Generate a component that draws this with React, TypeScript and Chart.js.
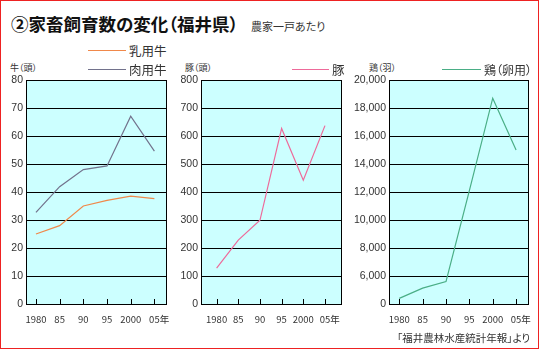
import React, { useEffect, useRef } from 'react';
import { Chart, registerables } from 'chart.js';

Chart.register(...registerables);

// ---- data ----
const years = ['1980', '85', '90', '95', '2000', '\u200305年'];
const dairyCattle = [25, 28, 35, 37, 38.5, 37.6];
const beefCattle = [32.7, 41.9, 48, 49.3, 67.1, 54.6];
const pigs = [128, 228, 299, 627, 442, 637];
const layerHens = [1200, 3400, 4800, 12100, 18700, 15000];
const cattleTicks = [0, 10, 20, 30, 40, 50, 60, 70, 80];
const pigTicks = [0, 100, 200, 300, 400, 500, 600, 700, 800];
const henTicks = [0, 6000, 8000, 10000, 12000, 14000, 16000, 18000, 20000];

const JP = '"Noto Sans CJK JP", "Noto Sans", sans-serif';

// broken axis for hens: 0..6000 occupies one interval (same as 2000)
const henAxis = (v: number) => (v <= 6000 ? 4000 + v / 3 : v);
const ident = (v: number) => v;

const framePlugin = {
  id: 'frame',
  beforeDraw(chart: any) {
    const { ctx, chartArea } = chart;
    const { left, top, right, bottom } = chartArea;
    ctx.save();
    ctx.fillStyle = '#ccffff';
    ctx.fillRect(left, top, right - left, bottom - top);
    ctx.restore();
  },
  afterDraw(chart: any) {
    const { ctx, chartArea } = chart;
    const { left, top, right, bottom } = chartArea;
    ctx.save();
    ctx.strokeStyle = '#000';
    ctx.lineWidth = 1;
    ctx.strokeRect(Math.round(left) + 0.5, Math.round(top) + 0.5, Math.round(right - left), Math.round(bottom - top));
    const xs = chart.scales.x;
    ctx.beginPath();
    xs.ticks.forEach((t: any) => {
      const x = Math.round(xs.getPixelForValue(t.value)) + 0.5;
      ctx.moveTo(x, Math.round(bottom) + 0.5);
      ctx.lineTo(x, Math.round(bottom) - 5);
    });
    ctx.stroke();
    ctx.restore();
  },
};

type Spec = {
  series: { data: number[]; color: string }[];
  ticks: number[];
  toAxis: (v: number) => number;
  label: (v: number) => string;
  xMin: number;
  xMax: number;
  yWidth: number;
  padRight: number;
};

function makeChart(canvas: HTMLCanvasElement, s: Spec) {
  const yMin = s.toAxis(s.ticks[0]);
  const yMax = s.toAxis(s.ticks[s.ticks.length - 1]);
  return new Chart(canvas, {
    type: 'line',
    data: {
      datasets: s.series.map((se) => ({
        data: se.data.map((v, i) => ({ x: i, y: s.toAxis(v) })),
        borderColor: se.color,
        borderWidth: 1.2,
        pointRadius: 0,
        tension: 0,
        fill: false,
      })),
    },
    options: {
      animation: false,
      responsive: false,
      maintainAspectRatio: false,
      devicePixelRatio: 1,
      layout: { padding: { top: 6, right: s.padRight, left: 0, bottom: 0 } },
      plugins: { legend: { display: false }, tooltip: { enabled: false }, title: { display: false } },
      scales: {
        x: {
          type: 'linear',
          min: s.xMin,
          max: s.xMax,
          grid: { display: false, drawTicks: false },
          border: { display: false },
          afterBuildTicks: (sc: any) => {
            sc.ticks = years.map((_, i) => ({ value: i }));
          },
          afterFit: (sc: any) => {
            sc.height = 36;
            sc.paddingLeft = 0;
            sc.paddingRight = 0;
          },
          ticks: {
            autoSkip: false,
            maxRotation: 0,
            padding: 10,
            color: '#333',
            font: { family: JP, size: 9.5 },
            callback: (v: any) => years[v as number] ?? '',
          },
        },
        y: {
          type: 'linear',
          min: yMin,
          max: yMax,
          grid: { color: '#000', lineWidth: 1, drawTicks: false },
          border: { display: false },
          afterBuildTicks: (sc: any) => {
            sc.ticks = s.ticks.map((v) => ({ value: s.toAxis(v) }));
          },
          afterFit: (sc: any) => {
            sc.width = s.yWidth;
            sc.paddingTop = 0;
            sc.paddingBottom = 0;
          },
          ticks: {
            padding: 3,
            color: '#333',
            font: { family: '"Liberation Sans", Arial, sans-serif', size: 10.5 },
            callback: (v: any) => {
              const i = s.ticks.findIndex((t) => s.toAxis(t) === v);
              return i >= 0 ? s.label(s.ticks[i]) : '';
            },
          },
        },
      },
    },
    plugins: [framePlugin],
  } as any);
}

const abs = (style: React.CSSProperties): React.CSSProperties => ({
  position: 'absolute',
  whiteSpace: 'nowrap',
  lineHeight: 1,
  fontFamily: JP,
  fontFeatureSettings: '"palt"',
  transform: 'translateY(-50%)',
  ...style,
});

function LegendLine({ x1, x2, y, color }: { x1: number; x2: number; y: number; color: string }) {
  return <div style={{ position: 'absolute', left: x1, top: y, width: x2 - x1, height: 0, borderTop: `1px solid ${color}` }} />;
}

export default function App() {
  const c1 = useRef<HTMLCanvasElement>(null);
  const c2 = useRef<HTMLCanvasElement>(null);
  const c3 = useRef<HTMLCanvasElement>(null);

  useEffect(() => {
    document.body.style.margin = '0';
    const charts = [
      makeChart(c1.current!, {
        series: [
          { data: dairyCattle, color: '#f0884a' },
          { data: beefCattle, color: '#72728c' },
        ],
        ticks: cattleTicks,
        toAxis: ident,
        label: (v) => String(v),
        xMin: -0.42,
        xMax: 5.49,
        yWidth: 26,
        padRight: 6,
      }),
      makeChart(c2.current!, {
        series: [{ data: pigs, color: '#ee6a9a' }],
        ticks: pigTicks,
        toAxis: ident,
        label: (v) => String(v),
        xMin: -0.72,
        xMax: 5.74,
        yWidth: 29,
        padRight: 3,
      }),
      makeChart(c3.current!, {
        series: [{ data: layerHens, color: '#4aae86' }],
        ticks: henTicks,
        toAxis: henAxis,
        label: (v) => v.toLocaleString('en-US'),
        xMin: -0.44,
        xMax: 5.51,
        yWidth: 45,
        padRight: 10,
      }),
    ];
    return () => charts.forEach((c) => c.destroy());
  }, []);

  return (
    <div style={{ position: 'relative', width: 540, height: 350, background: '#fff', overflow: 'hidden' }}>
      <div style={{ position: 'absolute', left: 0, top: 0, width: 537, height: 347, border: '1px solid #ee2222' }} />
      <div style={abs({ left: 11, top: 24, fontSize: 17.5, fontWeight: 'bold', color: '#111' })}>②家畜飼育数の変化（福井県）</div>
      <div style={abs({ left: 251, top: 26, fontSize: 11, color: '#333' })}>農家一戸あたり</div>

      <canvas ref={c1} width={172} height={266} style={{ position: 'absolute', left: 0, top: 74, width: 172, height: 266 }} />
      <canvas ref={c2} width={172} height={266} style={{ position: 'absolute', left: 172, top: 74, width: 172, height: 266 }} />
      <canvas ref={c3} width={194} height={266} style={{ position: 'absolute', left: 344, top: 74, width: 194, height: 266 }} />

      <div style={abs({ left: 10, top: 67, fontSize: 9, color: '#333' })}>牛（頭）</div>
      <div style={abs({ left: 185, top: 67, fontSize: 9, color: '#333' })}>豚（頭）</div>
      <div style={abs({ left: 369, top: 67, fontSize: 9, color: '#333' })}>鶏（羽）</div>

      <LegendLine x1={88} x2={126} y={50} color="#f0884a" />
      <div style={abs({ left: 129, top: 51, fontSize: 12.5, color: '#333' })}>乳用牛</div>
      <LegendLine x1={88} x2={126} y={69} color="#72728c" />
      <div style={abs({ left: 129, top: 70, fontSize: 12.5, color: '#333' })}>肉用牛</div>
      <LegendLine x1={292} x2={329} y={69} color="#ee6a9a" />
      <div style={abs({ left: 332, top: 70, fontSize: 12.5, color: '#333' })}>豚</div>
      <LegendLine x1={442} x2={481} y={69} color="#4aae86" />
      <div style={abs({ left: 484, top: 70, fontSize: 12, color: '#333' })}>鶏（卵用）</div>

      <div style={abs({ left: 397, top: 338, fontSize: 10.5, color: '#333' })}>「福井農林水産統計年報」より</div>
    </div>
  );
}
